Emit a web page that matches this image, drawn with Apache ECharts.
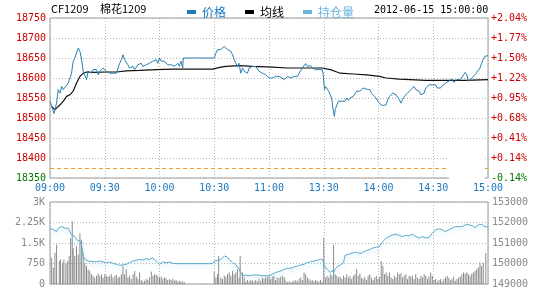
<!DOCTYPE html>
<html>
<head>
<meta charset="utf-8">
<script src="https://cdn.jsdelivr.net/npm/echarts@6/dist/echarts.min.js"></script>
<style>html,body{margin:0;padding:0;background:#fff}#c{width:540px;height:300px}</style>
</head>
<body>
<div id="c"></div>
<script>
// ---- data ----
const timeLabels = ['09:00','09:30','10:00','10:30','11:00','13:30','14:00','14:30','15:00'];
const prevSettle = 18375;
const priceTicks = [18350, 18750, 50];
const volTicks = [0, 3000, 750];
const oiTicks = [149000, 153000, 1000];
// [minute from 09:00 on the session axis, price]
const priceData = [[0,18542],[1.8,18517],[2.2,18511],[3.6,18537],[4.5,18571],[5.5,18562],[6.4,18579],[7.3,18571],[8.2,18577],[9.1,18579],[10,18587],[10.9,18583],[11.8,18612],[12.7,18642],[13.6,18650],[14.5,18662],[15.5,18675],[16.4,18667],[17.3,18646],[18.2,18617],[19.1,18621],[20,18596],[20.9,18617],[21.8,18621],[22.7,18612],[23.6,18621],[24.5,18617],[25.5,18621],[26.4,18608],[27.3,18617],[28.2,18621],[29.1,18625],[30,18621],[30.9,18617],[31.8,18617],[32.7,18612],[33.6,18617],[34.5,18612],[35.5,18617],[36.4,18612],[37.3,18617],[38.2,18637],[39.1,18646],[40,18658],[40.9,18646],[41.8,18642],[42.7,18633],[43.6,18625],[44.5,18621],[45.5,18629],[46.4,18621],[47.3,18625],[48.2,18633],[49.1,18629],[50,18637],[50.9,18629],[51.8,18629],[52.7,18633],[53.6,18629],[54.5,18637],[55.5,18633],[56.4,18642],[57.3,18637],[58.2,18646],[59.1,18637],[60,18650],[60.9,18642],[61.8,18646],[62.7,18642],[63.6,18637],[64.5,18633],[65.5,18637],[66.4,18633],[67.3,18637],[68.2,18629],[69.1,18633],[70,18637],[70.9,18629],[71.8,18642],[72.7,18625],[73.1,18650],[90,18650],[90.9,18662],[91.8,18671],[92.7,18667],[93.6,18671],[94.5,18675],[95.5,18679],[96.4,18675],[97.3,18671],[98.2,18675],[99.1,18667],[100,18658],[100.9,18646],[101.8,18637],[102.7,18629],[103.6,18637],[104.5,18612],[105.5,18625],[106.4,18617],[107.3,18621],[108.2,18612],[109.1,18625],[110,18621],[110.9,18629],[111.8,18625],[112.7,18629],[113.6,18625],[114.5,18617],[115.5,18621],[116.4,18612],[117.3,18612],[118.2,18608],[119.1,18604],[120,18600],[120.9,18596],[121.8,18600],[122.7,18600],[123.6,18604],[124.5,18600],[125.5,18604],[126.4,18600],[128.4,18596],[130.2,18604],[132,18600],[133.8,18604],[135.6,18604],[136.5,18612],[137.4,18617],[138.3,18625],[139.2,18629],[140.1,18636],[141,18629],[141.9,18625],[142.8,18631],[143.7,18625],[144.6,18629],[145.5,18621],[146.4,18625],[147.3,18621],[148.2,18622],[149.1,18621],[149.6,18612],[150.4,18571],[150.9,18579],[151.8,18575],[152.7,18567],[153.6,18558],[154.5,18546],[155,18525],[155.8,18504],[156.3,18521],[157.2,18533],[158.1,18542],[159,18546],[159.9,18542],[160.8,18546],[161.7,18542],[162.6,18550],[163.5,18544],[164.4,18550],[165.3,18546],[166.2,18554],[167.1,18558],[168,18567],[168.9,18571],[169.8,18567],[170.7,18571],[171.6,18575],[172.5,18571],[173.4,18572],[174.3,18567],[175.2,18571],[176.1,18562],[177,18558],[177.9,18554],[178.8,18550],[179.7,18542],[180.6,18536],[181.5,18533],[182.4,18531],[183.3,18531],[184.2,18533],[185.1,18546],[186,18554],[186.9,18558],[187.8,18562],[188.7,18561],[189.6,18558],[190.5,18554],[191.4,18546],[192.3,18537],[193.2,18546],[194.1,18554],[195,18558],[195.9,18562],[196.8,18567],[197.7,18571],[198.6,18575],[199.5,18579],[200.4,18571],[201.3,18575],[202.3,18567],[203.2,18558],[204.1,18554],[205,18562],[205.9,18575],[206.8,18579],[207.7,18583],[208.6,18579],[209.5,18583],[210.4,18579],[211.3,18583],[212.2,18575],[213.1,18571],[214,18575],[214.9,18581],[215.8,18583],[216.7,18587],[217.6,18586],[218.5,18592],[219.4,18596],[220.3,18597],[221.2,18589],[222.1,18587],[223,18596],[223.9,18592],[224.8,18596],[225.7,18600],[226.6,18608],[227.5,18614],[228.4,18608],[229.3,18592],[230.2,18596],[231.1,18600],[232,18604],[232.9,18608],[233.8,18614],[234.7,18617],[235.6,18625],[236.5,18637],[237.4,18646],[238.2,18654],[240,18656]];
const avgData = [[1,18528],[2.7,18521],[5.5,18533],[7.3,18542],[9.1,18554],[10.9,18558],[12.7,18567],[14.5,18587],[16.4,18604],[18.2,18612],[20,18615],[23.6,18614],[30.9,18615],[36.4,18615],[41.8,18618],[49.1,18619],[58.2,18621],[67.3,18622],[89.1,18622],[93.6,18627],[96.4,18629],[103.6,18631],[110.9,18629],[121.8,18627],[130,18625],[149.1,18625],[153.6,18621],[157.2,18615],[159,18612],[166.2,18610],[173.4,18608],[180.6,18604],[184.2,18600],[191.4,18597],[205.9,18594],[227.5,18594],[240,18596]];
const oiData = [[0,151720],[1.8,151640],[3.6,151560],[4.5,151720],[5.5,151720],[6.4,151800],[7.3,151832],[8.2,151720],[9.1,151672],[10,151720],[10.9,151560],[11.8,151400],[12.7,151480],[13.6,151320],[14.5,151160],[15.5,151240],[16.4,151080],[17.3,150920],[18.2,150360],[19.1,150200],[20,150152],[20.9,150120],[21.8,150120],[23.6,150088],[25.5,150088],[27.3,150120],[29.1,150072],[30.9,150040],[32.7,150072],[34.5,150008],[36.4,149960],[38.2,149912],[40,149928],[41.8,149960],[43.6,150040],[45.5,150120],[46.4,150200],[47.3,150152],[49.1,150200],[50.9,150168],[52.7,150232],[54.5,150200],[56.4,150280],[57.3,150200],[58.2,150120],[59.1,150040],[60,149960],[60.9,150040],[61.8,150072],[63.6,150040],[65.5,150072],[67.3,150008],[69.1,149992],[73.6,149992],[89.1,149992],[90,150120],[91.8,150152],[93.6,150200],[95.5,150360],[96.4,150392],[97.3,150312],[98.2,150200],[100,150040],[101.8,149960],[102.7,149880],[103.6,149720],[104.5,149560],[105.5,149400],[107.3,149432],[109.1,149400],[110.9,149432],[112.7,149448],[114.5,149432],[116.4,149400],[120,149400],[121.8,149480],[123.6,149560],[125.5,149608],[126.6,149640],[128.4,149720],[130.2,149768],[132,149768],[133.8,149832],[135.6,149880],[136.5,149832],[137.4,149928],[139.2,149960],[141,150040],[142.8,150088],[144.6,150120],[146.4,150152],[148.2,150200],[149.6,150168],[150.4,149880],[151.8,149720],[152.7,149640],[153.6,149560],[154.5,149672],[155.4,149560],[156.3,149720],[157.2,149832],[159,149928],[160.8,150040],[161.7,150392],[162.6,150440],[164.4,150472],[166.2,150520],[168,150552],[169.8,150472],[171.6,150568],[173.4,150632],[175.2,150680],[177,150760],[178.8,150792],[180.6,150840],[181.5,150920],[182.4,151080],[183.3,151160],[184.2,151240],[186,151320],[187.8,151400],[189.6,151432],[190.5,151480],[191.4,151368],[193.2,151320],[195,151368],[196.8,151352],[198.6,151432],[200.4,151320],[202.3,151240],[204.1,151320],[205.9,151240],[207.7,151272],[209.5,151480],[211.3,151640],[213.1,151688],[214.9,151640],[216.7,151560],[218.5,151640],[220.3,151720],[222.1,151800],[223.9,151800],[225.7,151800],[226.6,151832],[228.4,151912],[229.3,151960],[231.1,151848],[232.9,151752],[234.7,151880],[235.6,151912],[236.5,151912],[238.2,151800],[240,151780]];
const volData = [[0.9,960],[1.8,600],[2.7,1140],[3.6,1440],[5.1,840],[5.8,900],[6.9,780],[7.6,900],[8.7,720],[9.5,840],[10.5,1020],[11.3,1680],[12.2,2300],[12.7,1320],[13.6,1020],[14.5,1380],[15.5,1080],[16.4,1860],[17.3,1620],[18.2,1140],[19.1,780],[20,660],[20.9,540],[21.8,480],[22.7,360],[23.6,300],[24.5,240],[25.5,300],[26.4,384],[27.3,300],[28.2,360],[29.1,240],[30,360],[30.9,300],[31.8,264],[32.7,300],[33.6,360],[34.5,240],[35.5,300],[36.4,336],[37.3,240],[38.2,264],[39.1,360],[40,660],[40.9,360],[41.8,540],[42.7,240],[43.6,300],[44.5,180],[45.5,360],[46.4,480],[47.3,264],[48.2,180],[49.1,420],[50,144],[50.9,96],[51.8,120],[52.7,180],[53.6,144],[54.5,240],[55.5,456],[56.4,300],[57.3,360],[58.2,336],[59.1,300],[60,240],[60.9,264],[61.8,180],[62.7,240],[63.6,216],[64.5,144],[65.5,180],[66.4,144],[67.3,180],[68.2,120],[69.1,144],[70,96],[70.9,120],[71.8,96],[72.7,84],[73.6,60],[90,456],[90.9,240],[91.8,360],[92.4,1020],[93.6,240],[94.5,180],[95.5,300],[96.4,264],[97.3,360],[98.2,420],[99.1,300],[100,480],[100.9,360],[101.8,420],[102.7,540],[103.6,240],[104.2,1020],[105.5,420],[106.4,240],[107.3,96],[108.2,144],[109.1,96],[110,144],[110.9,120],[111.8,96],[112.7,144],[113.6,96],[114.5,180],[115.5,120],[116.4,240],[117.3,180],[118.2,264],[119.1,240],[120,300],[120.9,180],[121.8,264],[122.7,300],[123.6,144],[124.5,240],[125.5,216],[126.4,264],[127.5,300],[128.4,240],[129.3,120],[130.2,60],[131.1,96],[132,60],[132.9,96],[133.8,120],[134.7,144],[135.6,96],[136.5,180],[137.4,240],[138.3,144],[139.2,420],[140.1,360],[141,240],[141.9,180],[142.8,120],[143.7,144],[144.6,96],[145.5,144],[146.4,120],[147.3,96],[148.2,144],[149.1,96],[150,1680],[150.9,240],[151.8,300],[152.7,240],[153.6,360],[154.5,300],[155.4,1440],[156.3,360],[157.2,300],[158.1,240],[159,264],[159.9,180],[160.8,300],[161.7,240],[162.6,360],[163.5,240],[164.4,300],[165.3,180],[166.2,300],[167.1,360],[168,540],[168.9,300],[169.8,384],[170.7,240],[171.6,180],[172.5,264],[173.4,144],[174.3,300],[175.2,360],[176.1,240],[177,144],[177.9,240],[178.8,300],[179.7,180],[180.6,264],[181.5,840],[182.4,660],[183.3,360],[184.2,420],[185.1,300],[186,420],[186.9,240],[187.8,180],[188.7,300],[189.6,240],[190.5,420],[191.4,360],[192.3,384],[193.2,240],[194.1,300],[195,360],[195.9,180],[196.8,300],[197.7,264],[198.6,300],[199.5,180],[200.4,360],[201.3,240],[202.3,180],[203.2,300],[204.1,240],[205,360],[205.9,300],[206.8,180],[207.7,264],[208.6,420],[209.5,300],[210.4,144],[211.3,180],[212.2,96],[213.1,144],[214,180],[214.9,96],[215.8,180],[216.7,240],[217.6,300],[218.5,216],[219.4,144],[220.3,180],[221.2,264],[222.1,120],[223,180],[223.9,240],[224.8,264],[225.7,360],[226.6,420],[227.5,384],[228.4,420],[229.3,360],[230.2,300],[231.1,384],[232,420],[232.9,480],[233.8,540],[234.7,600],[235.6,780],[236.5,660],[237.4,780],[238.8,1130]];

// ---- chart ----
const RED = '#cc0000', GREEN = '#007a00', BLUE = '#1a78c2', GRAY = '#888';
const MONO = '"DejaVu Sans Mono", "Liberation Mono", monospace';
const CJK = '"Noto Sans CJK SC", "Noto Sans", sans-serif';
const dotted = { show: true, lineStyle: { color: '#b4b4b4', type: [1, 2], width: 1 } };
const chart = echarts.init(document.getElementById('c'), null, { renderer: 'canvas' });
function volFmt(v) { return v === 0 ? '0' : (v < 1000 ? String(v) : (v / 1000) + 'K'); }
function pctFmt(v) { const p = (v - prevSettle) / prevSettle * 100; return (p >= 0 ? '+' : '') + p.toFixed(2) + '%'; }
function plain(v) { return String(v); }
function pxColor(v) { return v > prevSettle ? RED : GREEN; }
const xBase = {
  type: 'value', min: 0, max: 240, interval: 30,
  axisLine: { show: false }, axisTick: { show: false }, splitLine: dotted
};
chart.setOption({
  animation: false,
  backgroundColor: '#fff',
  grid: [
    { left: 50, right: 52, top: 18, height: 160, show: true, borderColor: '#999', borderWidth: 1 },
    { left: 50, right: 52, top: 202, height: 82, show: true, borderColor: '#999', borderWidth: 1 }
  ],
  legend: {
    left: 182, top: 1, icon: 'rect', itemWidth: 9, itemHeight: 4, itemGap: 19, selectedMode: false,
    textStyle: { fontFamily: CJK, fontSize: 12, padding: [0, 0, 0, 1] },
    data: [
      { name: '价格', textStyle: { color: BLUE } },
      { name: '均线', textStyle: { color: '#000' } },
      { name: '持仓量', textStyle: { color: '#6ab4dc' } }
    ]
  },
  graphic: [
    { type: 'text', left: 51, top: 3, style: { text: 'CF1209', fill: '#000', font: '11px ' + CJK } },
    { type: 'text', left: 100, top: 3, style: { text: '棉花1209', fill: '#000', font: '11px ' + CJK } },
    { type: 'text', left: 374, top: 5, style: { text: '2012-06-15 15:00:00', fill: '#000', font: '10px ' + MONO } },
    { type: 'rect', shape: { x: 449, y: 143, width: 36, height: 38, r: 2 }, style: { fill: '#fff' }, z: 100 }
  ],
  xAxis: [
    Object.assign({}, xBase, { gridIndex: 0,
      axisLabel: { show: true, color: BLUE, fontFamily: MONO, fontSize: 10, margin: 5,
        formatter: v => timeLabels[Math.round(v / 30)] } }),
    Object.assign({}, xBase, { gridIndex: 1, axisLabel: { show: false } })
  ],
  yAxis: [
    { type: 'value', gridIndex: 0, position: 'left', min: priceTicks[0], max: priceTicks[1], interval: priceTicks[2],
      axisLine: { show: false }, axisTick: { show: false }, splitLine: dotted,
      axisLabel: { color: pxColor, fontFamily: MONO, fontSize: 10, margin: 4, formatter: plain } },
    { type: 'value', gridIndex: 0, position: 'right', min: priceTicks[0], max: priceTicks[1], interval: priceTicks[2],
      axisLine: { show: false }, axisTick: { show: false }, splitLine: { show: false },
      axisLabel: { color: pxColor, fontFamily: MONO, fontSize: 10, margin: 3, formatter: pctFmt } },
    { type: 'value', gridIndex: 1, position: 'left', min: volTicks[0], max: volTicks[1], interval: volTicks[2],
      axisLine: { show: false }, axisTick: { show: false }, splitLine: dotted,
      axisLabel: { color: GRAY, fontFamily: MONO, fontSize: 10, margin: 5, formatter: volFmt } },
    { type: 'value', gridIndex: 1, position: 'right', min: oiTicks[0], max: oiTicks[1], interval: oiTicks[2],
      axisLine: { show: false }, axisTick: { show: false }, splitLine: { show: false },
      axisLabel: { color: GRAY, fontFamily: MONO, fontSize: 10, margin: 4, formatter: plain } }
  ],
  series: [
    { name: '价格', type: 'line', xAxisIndex: 0, yAxisIndex: 0, data: priceData, showSymbol: false,
      color: '#1e7ab2', lineStyle: { width: 1, color: '#2a7fb3' }, z: 4,
      markLine: { silent: true, symbol: 'none', label: { show: false },
        lineStyle: { color: '#f0a020', type: [4, 3], width: 1 }, data: [{ yAxis: prevSettle }] } },
    { name: '均线', type: 'line', xAxisIndex: 0, yAxisIndex: 0, data: avgData, showSymbol: false,
      color: '#000', lineStyle: { width: 1.2, color: '#111' }, z: 3 },
    { name: '成交量', type: 'bar', xAxisIndex: 1, yAxisIndex: 2, data: volData, barWidth: 1,
      itemStyle: { color: '#8a8a8a' }, z: 2 },
    { name: '持仓量', type: 'line', xAxisIndex: 1, yAxisIndex: 3, data: oiData, showSymbol: false,
      color: '#6ab4dc', lineStyle: { width: 1, color: '#5aaac8', shadowColor: 'rgba(160,215,240,0.7)', shadowBlur: 4, shadowOffsetY: 3 }, z: 3 }
  ]
});
</script>
</body>
</html>
